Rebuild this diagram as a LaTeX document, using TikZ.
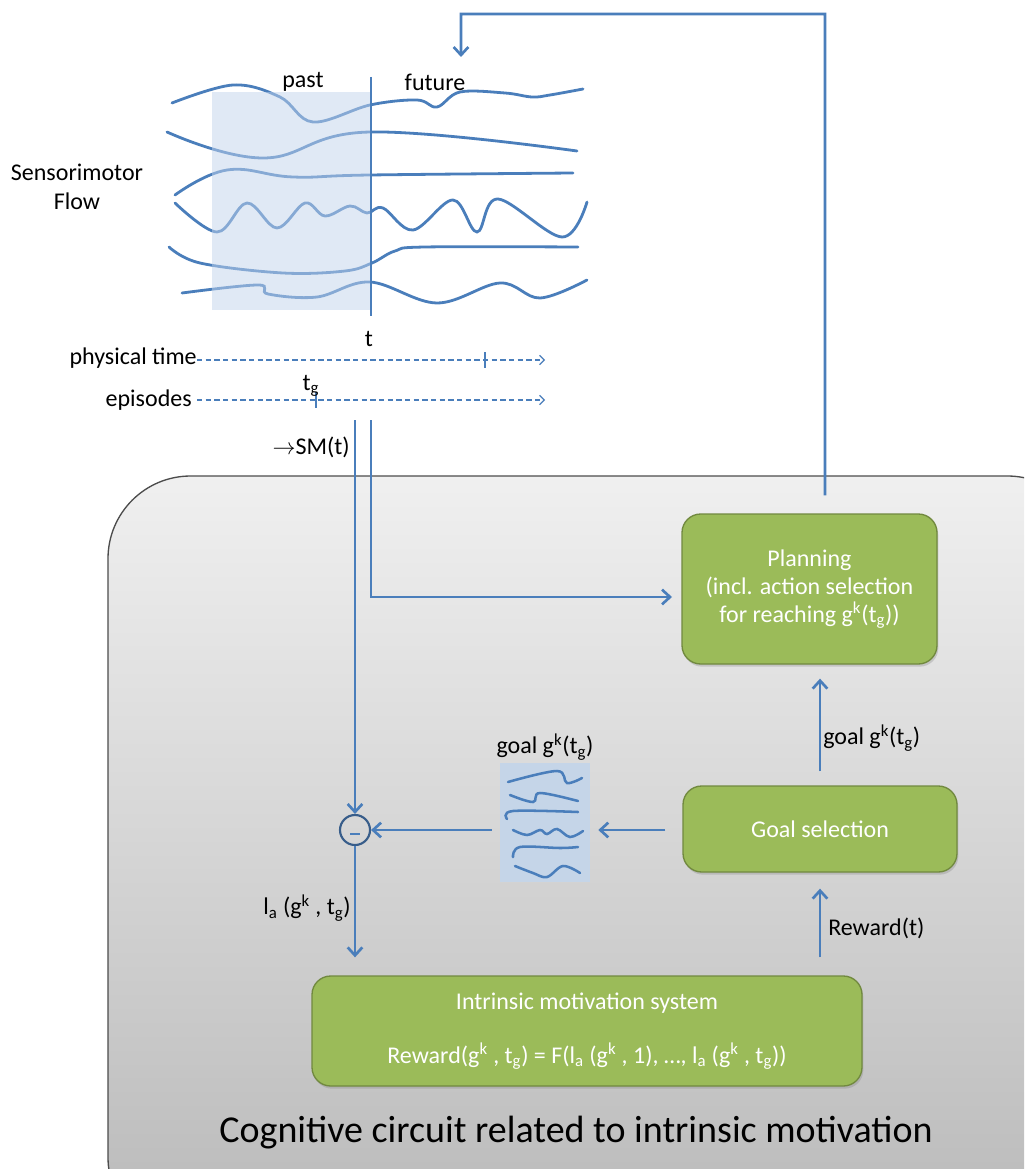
\documentclass[tikz,border=0pt]{standalone}
\usepackage{fontspec}
\setmainfont{Carlito}
\usetikzlibrary{arrows.meta,shadows,calc}
\definecolor{lblue}{HTML}{4A7EBB}
\definecolor{dblue}{HTML}{385D8A}
\definecolor{paleover}{HTML}{C3D5ED}
\definecolor{gimgfill}{HTML}{C5D5E8}
\definecolor{gfill}{HTML}{9BBB59}
\definecolor{gdraw}{HTML}{71893F}
\begin{document}
\begin{tikzpicture}[x=0.75pt,y=-0.75pt,
  conn/.style={draw=lblue,line width=2pt,-{Straight Barb[length=6pt,width=11pt]}},
  axisline/.style={draw=lblue,line width=0.9pt,dash pattern=on 4pt off 2.5pt,-{Straight Barb[length=3.5pt,width=7pt]}},
  flow/.style={draw=lblue,line width=2.1pt,line cap=round},
  gflow/.style={draw=lblue,line width=1.9pt,line cap=round},
  gbox/.style={draw=gdraw,line width=1pt,fill=gfill,rounded corners=14pt,text=white,
    font=\fontsize{18}{21}\selectfont,align=center,inner sep=0pt,
    drop shadow={opacity=0.3,shadow xshift=1pt,shadow yshift=-2pt}},
  lab/.style={font=\fontsize{18}{21}\selectfont,text=black,inner sep=0pt}]
\useasboundingbox (0,0) rectangle (1024,1169);
\fill[white] (0,0) rectangle (1024,1169);
% big cognitive circuit panel
\begin{scope}
\clip (0,0) rectangle (1024,1169);
\draw[draw=black!70,line width=1pt,top color=gray!12,bottom color=gray!55,rounded corners=62pt] (108,476) rectangle (1090,1240);
\end{scope}
\node[font=\fontsize{28.5}{32}\selectfont,inner sep=0pt] (title) at (576,1133) {Cognitive circuit related to intrinsic motivation};

% sensorimotor flow curves
\draw[flow] plot[smooth,tension=0.6] coordinates {(172,103) (233,85) (280,97) (313,122) (370,105) (417,100) (437,107) (460,92) (505,93) (532,97) (550,95) (583,89)};
\draw[flow] plot[smooth,tension=0.7] coordinates {(167,132) (263,158) (370,132) (577,151)};
\draw[flow] plot[smooth,tension=0.7] coordinates {(175,195) (227,170) (293,177) (370,175) (573,173)};
\draw[flow] plot[smooth,tension=0.6] coordinates {(175,203) (217,232) (247,203) (277,228) (305,203) (325,216) (350,206) (367,213) (383,208) (413,230) (453,200) (477,232) (498,199) (562,237) (587,202)};
\draw[flow] plot[smooth,tension=0.6] coordinates {(169,247) (200,263) (283,273) (345,271) (372,263) (395,251) (425,247) (578,247)};
\draw[flow] plot[smooth,tension=0.6] coordinates {(182,293) (258,285) (268,294) (317,297) (370,282) (437,303) (500,283) (540,298) (587,280)};
\fill[paleover,opacity=0.5] (212,92) rectangle (371,310);
\draw[lblue,line width=1.2pt] (371,77) -- (371,316);
\node[lab] (past) at (303,82) {past};
\node[lab] (future) at (435,82) {future};
\node[lab,align=center,font=\fontsize{18}{22}\selectfont] (smflow) at (77,187) {Sensorimotor\\Flow};

% time axes
\node[lab] (tlab) at (369,339) {t};
\node[lab,anchor=east] (ptime) at (197,358) {physical time};
\coordinate (ptend) at (545,360);
\draw[axisline] (ptime.east |- ptend) -- (ptend);
\draw[lblue,line width=0.9pt] (485,352) -- (485,368);
\node[lab,anchor=east] (epis) at (192,400) {episodes};
\coordinate (epend) at (545,400);
\draw[axisline] (197,400) -- (epend);
\draw[lblue,line width=0.9pt] (316,392) -- (316,408);
\node[lab] (tg) at (311,386) {t\textsubscript{g}};

% SM(t) lines
\node[lab,anchor=east] (smlab) at (350,447) {$\rightarrow$SM(t)};
\coordinate (smL) at (355,420);
\coordinate (smR) at (371,420);

% green boxes
\node[gbox,minimum width=191.25pt,minimum height=112.5pt] (plan) at (809.5,589) {Planning\\(incl. action selection\\for reaching g\textsuperscript{k}(t\textsubscript{g}))};
\node[gbox,minimum width=205.5pt,minimum height=64.5pt] (gsel) at (820,829) {Goal selection};
\node[gbox,minimum width=412.5pt,minimum height=82.5pt] (intr) at (587,1031) {Intrinsic motivation system\\[19.5pt]Reward(g\textsuperscript{k} , t\textsubscript{g}) = F(l\textsubscript{a} (g\textsuperscript{k} , 1), …, l\textsubscript{a} (g\textsuperscript{k} , t\textsubscript{g}))};

% goal image
\node[fill=gimgfill,minimum width=67.5pt,minimum height=89.25pt,inner sep=0pt] (gimg) at (545,822.5) {};
\draw[gflow] plot[smooth,tension=0.6] coordinates {(508,782) (557,771) (567,783) (582,778)};
\draw[gflow] plot[smooth,tension=0.6] coordinates {(510,795) (533,802) (540,793) (578,801)};
\draw[gflow] plot[smooth,tension=0.6] coordinates {(507,819) (513,811) (578,812)};
\draw[gflow] plot[smooth,tension=0.6] coordinates {(513,830) (527,835) (540,830) (547,834) (557,829) (570,837) (583,831)};
\draw[gflow] plot[smooth,tension=0.6] coordinates {(513,857) (520,847) (560,848) (578,847)};
\draw[gflow] plot[smooth,tension=0.6] coordinates {(515,866) (533,873) (547,877) (563,866) (580,873)};
\node[lab] (gimglab) at (545,747) {goal g\textsuperscript{k}(t\textsubscript{g})};

% minus circle
\node[circle,draw=dblue,line width=1.6pt,minimum size=22.5pt,inner sep=0pt] (mn) at (355,830) {};
\draw[lblue,line width=2pt] ($(mn.center)+(-5,4)$) -- ($(mn.center)+(5,4)$);

% connectors
\draw[lblue,line width=2pt] (smL) -- (smL |- smlab.south);
\draw[conn] (smL) -- (mn);
\draw[conn] (smR) |- ([xshift=-7pt,yshift=-6pt]plan.west);
\coordinate (fbtop) at (825,14);
\coordinate (fbend) at (461,57);
\draw[conn] ([xshift=11.6pt,yshift=13.5pt]plan.north) -- (fbtop) -| (fbend);
\draw[conn] ([yshift=10.5pt]gsel.north) -- ([yshift=-10.5pt]gsel.north |- plan.south);
\draw[conn] ([yshift=13.5pt]gsel.south |- intr.north) -- ([yshift=-12pt]gsel.south);
\draw[conn] (mn) -- ([yshift=13.5pt]mn |- intr.north);
\draw[conn] ([xshift=-6pt]gimg.west |- mn) -- (mn);
\draw[conn] ([xshift=-12.75pt]gsel.west |- mn) -- ([xshift=6pt]gimg.east |- mn);

% connector labels
\node[lab,anchor=west] (glab) at (823,738) {goal g\textsuperscript{k}(t\textsubscript{g})};
\node[lab,anchor=west] (rlab) at (828,928) {Reward(t)};
\node[lab,anchor=east] (lalab) at (351,908) {l\textsubscript{a} (g\textsuperscript{k} , t\textsubscript{g})};
\end{tikzpicture}
\end{document}
